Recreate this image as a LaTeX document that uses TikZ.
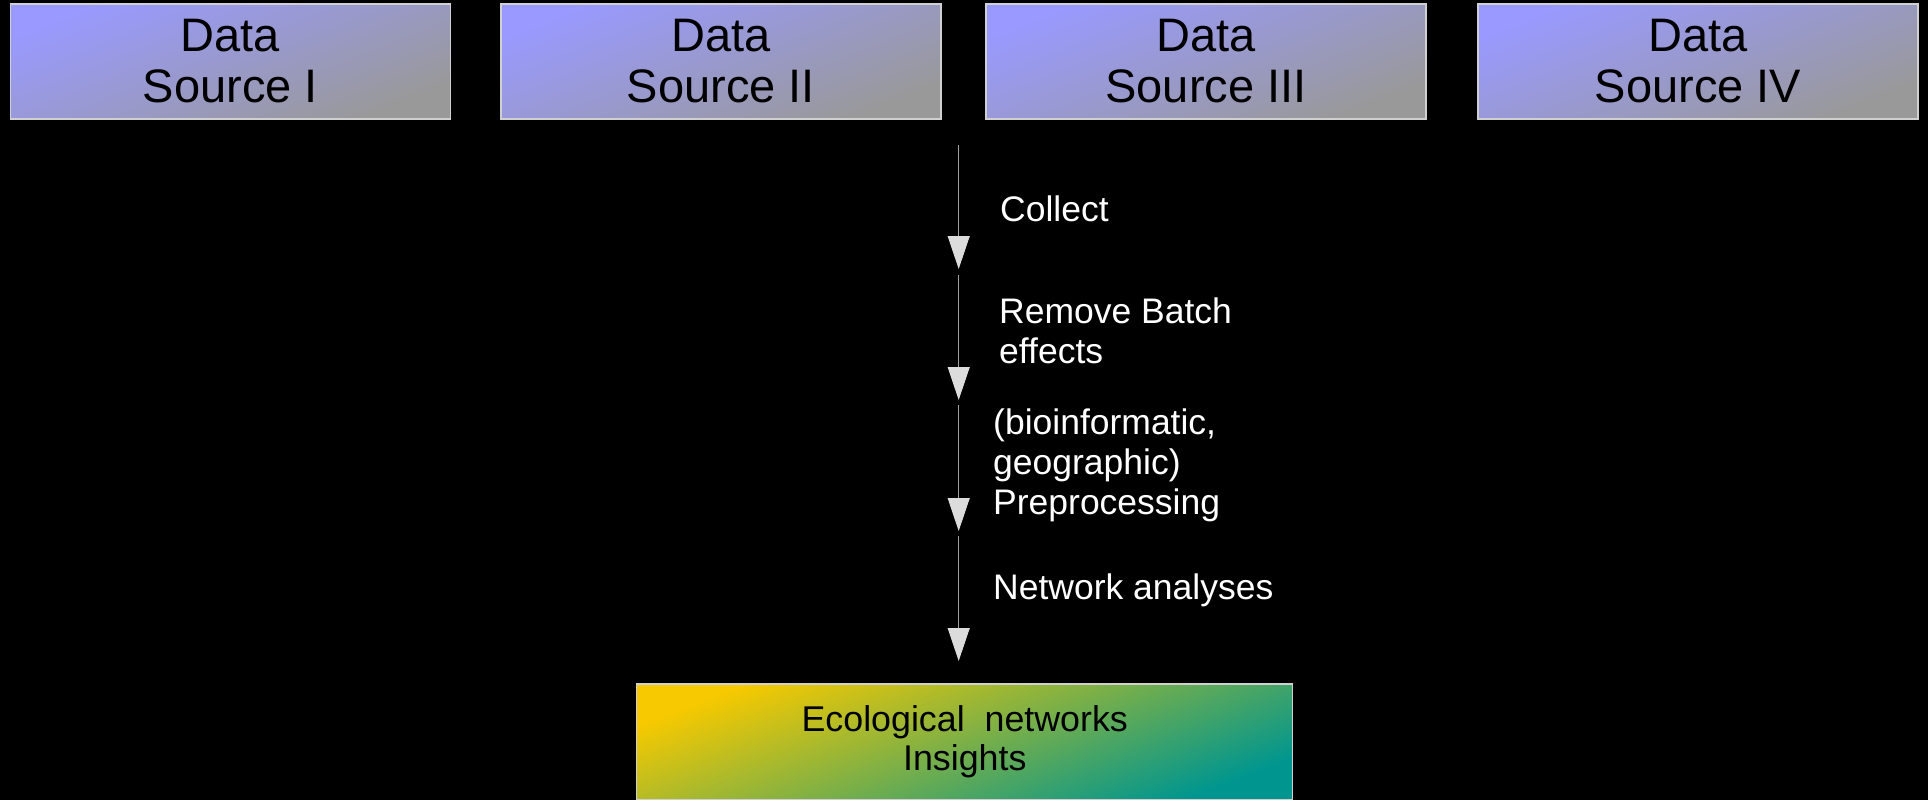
\documentclass[tikz,border=0pt]{standalone}
\usepackage{fontspec}
\setmainfont{Liberation Sans}
\usetikzlibrary{arrows.meta}
\definecolor{srctop}{HTML}{9999FF}
\definecolor{srcbot}{HTML}{999999}
\definecolor{instop}{HTML}{F6C900}
\definecolor{insbot}{HTML}{00968F}
\definecolor{edgegray}{HTML}{D0D0D0}
\definecolor{linegray}{HTML}{A0A0A0}
\definecolor{tipgray}{HTML}{DCDCDC}
\tikzset{%
    srcbox/.style={draw=edgegray,line width=1.2pt,top color=srctop,bottom color=srcbot,shading angle=22,
        minimum width=440pt,minimum height=115pt,inner sep=0pt,align=center,text=black,
        font=\fontsize{47}{51}\selectfont},
    insbox/.style={draw=edgegray,line width=1.2pt,top color=instop,bottom color=insbot,shading angle=21,
        minimum width=656pt,minimum height=116pt,inner sep=0pt,align=center,text=black,
        font=\fontsize{35.8}{39}\selectfont},
    steplbl/.style={anchor=north west,inner sep=0pt,align=left,text=white,
        font=\fontsize{35.5}{40}\selectfont},
    flow/.style={draw=linegray,line width=1pt,-{Triangle[width=22pt,length=33pt,color=tipgray]}}
}
\begin{document}
\begin{tikzpicture}[x=1pt,y=-1pt]
        \fill[black] (0,0) rectangle (1928,800);
        \useasboundingbox (0,0) rectangle (1928,800);

        \node[srcbox] (src1) at (230.5,61.5) {Data\\Source I};
        \node[srcbox] (src2) at (721,61.5) {Data\\Source II};
        \node[srcbox] (src3) at (1206,61.5) {Data\\Source III};
        \node[srcbox] (src4) at (1698,61.5) {Data\\Source IV};

        \node[insbox] (insight) at (964.75,742) {Ecological~~networks\\Insights};

        \foreach \ys/\ye [count=\i] in {145/269, 275/400, 405/531, 536/661}{
            \coordinate (a\i) at (958.7,\ys);
            \coordinate (b\i) at (958.7,\ye);
            \draw[flow] (a\i) -- (b\i);
        }

        \node[steplbl] (lbl1) at (1000,195.5) {Collect};
        \node[steplbl] (lbl2) at (999,297.5) {Remove Batch\\effects};
        \node[steplbl] (lbl3) at (993,409) {(bioinformatic,\\geographic)\\Preprocessing};
        \node[steplbl] (lbl4) at (993,573.5) {Network analyses};
    \end{tikzpicture}
\end{document}
